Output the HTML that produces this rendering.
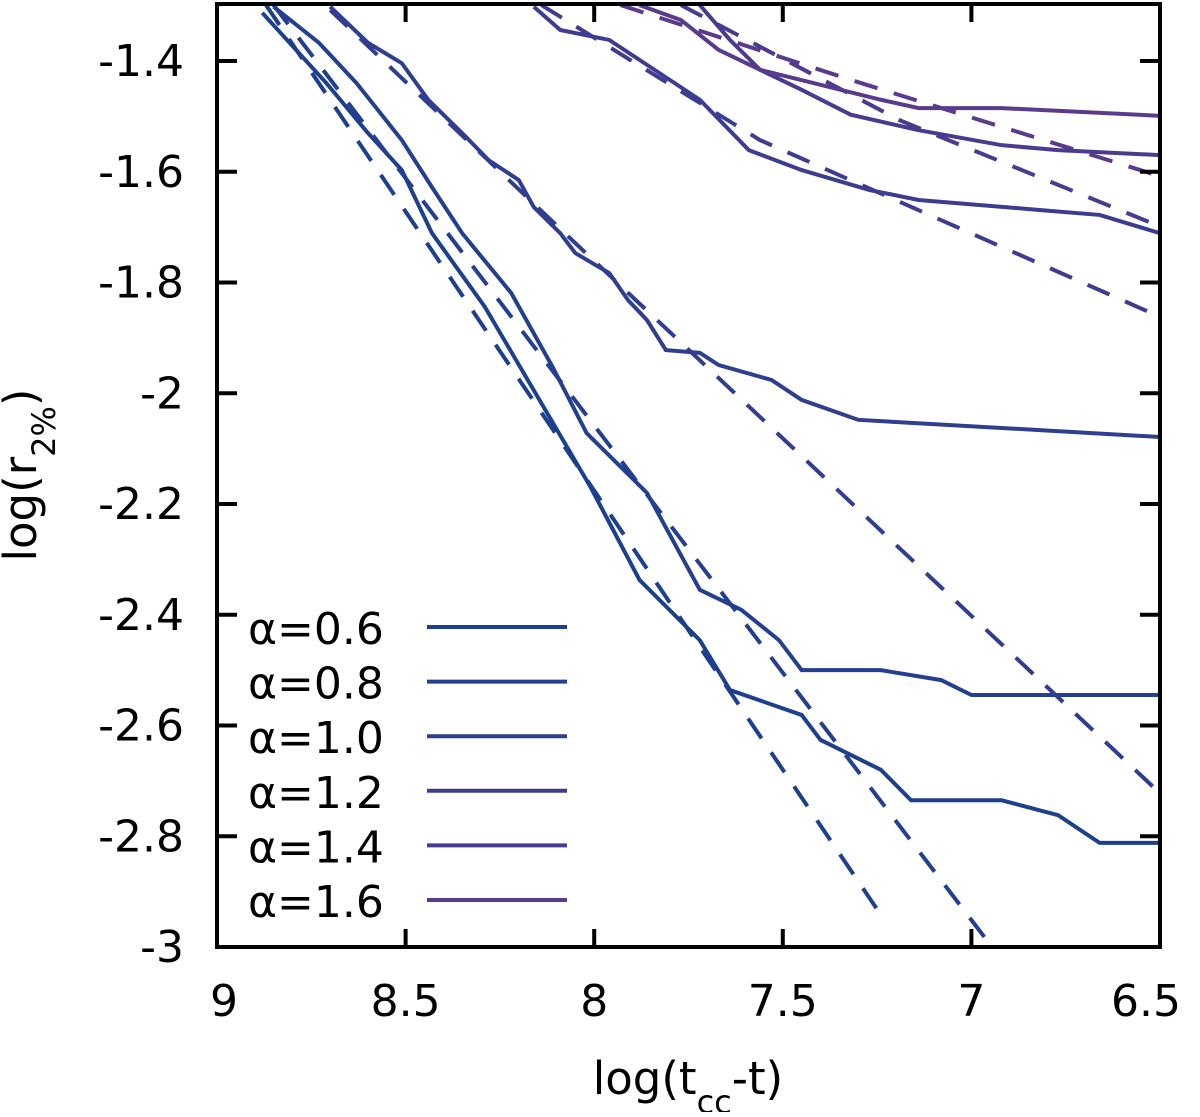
<!DOCTYPE html>
<html><head><meta charset="utf-8"><style>
html,body{margin:0;padding:0;background:#fff;}
svg text{font-family:"DejaVu Sans","Liberation Sans",sans-serif;fill:#000;}
</style></head><body>
<svg id="chart" width="1200" height="1112" viewBox="0 0 1200 1112" xmlns="http://www.w3.org/2000/svg">
<defs><clipPath id="pc"><rect x="217" y="4" width="943" height="943"/></clipPath></defs>
<g id="marks" clip-path="url(#pc)"></g>
<rect x="217" y="4" width="943" height="943" fill="none" stroke="#000" stroke-width="4"/>
<g id="axes"></g>
<text x="688" y="1094" font-size="45" text-anchor="middle">log(t<tspan baseline-shift="sub" font-size="32">cc</tspan>-t)</text>
<text transform="translate(36,475) rotate(-90)" font-size="45" text-anchor="middle">log(r<tspan baseline-shift="sub" font-size="32">2%</tspan>)</text>
<g id="legend"></g>
</svg>
<script>
const labels = ["α=0.6","α=0.8","α=1.0","α=1.2","α=1.4","α=1.6"];
const colors = ["#1c3f8e","#243f90","#2f3e91","#3c3d90","#4a3b8f","#5b3a8d"];
const xTicks = [9,8.5,8,7.5,7,6.5];
const xTickLabels = ["9","8.5","8","7.5","7","6.5"];
const yTicks = [-1.4,-1.6,-1.8,-2,-2.2,-2.4,-2.6,-2.8,-3];
const yTickLabels = ["-1.4","-1.6","-1.8","-2","-2.2","-2.4","-2.6","-2.8","-3"];
const simX = [
 [8.88,8.71,8.60,8.51,8.43,8.29,8.14,8.01,7.88,7.72,7.64,7.45,7.40,7.24,7.16,6.92,6.77,6.66,6.50],
 [8.85,8.73,8.63,8.51,8.43,8.35,8.22,8.11,8.02,7.86,7.72,7.61,7.51,7.45,7.24,7.08,7.00,6.50],
 [8.70,8.60,8.51,8.44,8.34,8.28,8.20,8.16,8.09,8.05,7.96,7.91,7.86,7.81,7.72,7.67,7.53,7.45,7.30,6.50],
 [8.16,8.09,7.96,7.88,7.72,7.59,7.45,7.27,7.14,6.82,6.66,6.50],
 [7.72,7.64,7.56,7.45,7.32,7.14,6.92,6.77,6.50],
 [7.88,7.77,7.67,7.56,7.40,7.24,7.14,6.92,6.50]
];
const simY = [
 [-1.313,-1.440,-1.530,-1.597,-1.711,-1.844,-2.018,-2.169,-2.337,-2.446,-2.536,-2.581,-2.626,-2.680,-2.735,-2.735,-2.762,-2.812,-2.812],
 [-1.302,-1.367,-1.440,-1.543,-1.628,-1.711,-1.819,-1.953,-2.072,-2.180,-2.355,-2.391,-2.446,-2.500,-2.500,-2.518,-2.545,-2.545],
 [-1.302,-1.367,-1.404,-1.470,-1.537,-1.579,-1.615,-1.664,-1.711,-1.747,-1.783,-1.832,-1.868,-1.922,-1.927,-1.949,-1.976,-2.012,-2.048,-2.079],
 [-1.302,-1.344,-1.362,-1.398,-1.470,-1.561,-1.597,-1.633,-1.651,-1.669,-1.678,-1.711],
 [-1.299,-1.362,-1.416,-1.452,-1.497,-1.525,-1.552,-1.561,-1.570],
 [-1.299,-1.326,-1.380,-1.416,-1.443,-1.470,-1.485,-1.485,-1.499]
];
const fitX = [
 [8.87,7.24],[8.85,6.96],[8.70,8.05,6.51],[8.14,7.56,6.51],[7.77,7.19,6.51],[7.93,7.32,6.51]
];
const fitY = [
 [-1.299,-2.942],[-1.299,-2.987],[-1.308,-1.729,-2.716],[-1.299,-1.543,-1.859],[-1.299,-1.507,-1.696],[-1.299,-1.434,-1.606]
];
const NS="http://www.w3.org/2000/svg";
function sx(v){return 217+(9-v)*377.2;}
function sy(v){return 61+(-1.4-v)*553.75;}
const marks=document.getElementById('marks');
for(let i=0;i<labels.length;i++){
  const p=document.createElementNS(NS,'polyline');
  p.setAttribute('points',simX[i].map((x,j)=>sx(x)+','+sy(simY[i][j])).join(' '));
  p.setAttribute('fill','none');p.setAttribute('stroke',colors[i]);p.setAttribute('stroke-width','4');
  
  
  marks.appendChild(p);
  const d=document.createElementNS(NS,'polyline');
  d.setAttribute('points',fitX[i].map((x,j)=>sx(x)+','+sy(fitY[i][j])).join(' '));
  d.setAttribute('fill','none');d.setAttribute('stroke',colors[i]);d.setAttribute('stroke-width','4');
  d.setAttribute('stroke-dasharray','24,17');
  
  
  marks.appendChild(d);
}
const axes=document.getElementById('axes');
xTicks.forEach((v,i)=>{
  const x=sx(v);
  for(const [a,b] of [[947,929],[4,22]]){
    const l=document.createElementNS(NS,'line');
    l.setAttribute('x1',x);l.setAttribute('x2',x);l.setAttribute('y1',a);l.setAttribute('y2',b);
    l.setAttribute('stroke','#000');l.setAttribute('stroke-width','4');
    
    
    axes.appendChild(l);
  }
  const t=document.createElementNS(NS,'text');
  t.setAttribute('x',i==0?x+7:(i==xTicks.length-1?x-14:x));t.setAttribute('y',1016);
  t.setAttribute('font-size','44');t.setAttribute('text-anchor','middle');
  t.textContent=xTickLabels[i];
  
  
  axes.appendChild(t);
});
yTicks.forEach((v,i)=>{
  const y=sy(v);
  for(const [a,b] of [[217,237],[1160,1140]]){
    const l=document.createElementNS(NS,'line');
    l.setAttribute('x1',a);l.setAttribute('x2',b);l.setAttribute('y1',y);l.setAttribute('y2',y);
    l.setAttribute('stroke','#000');l.setAttribute('stroke-width','4');
    
    
    axes.appendChild(l);
  }
  const t=document.createElementNS(NS,'text');
  t.setAttribute('x',184);t.setAttribute('y',y+15);
  t.setAttribute('font-size','44');t.setAttribute('text-anchor','end');
  t.textContent=yTickLabels[i];
  
  
  axes.appendChild(t);
});
const legend=document.getElementById('legend');
labels.forEach((lab,i)=>{
  const y=627+i*54.6;
  const t=document.createElementNS(NS,'text');
  t.setAttribute('x',248);t.setAttribute('y',y+17);t.setAttribute('font-size','44');
  t.textContent=lab;
  
  
  legend.appendChild(t);
  const l=document.createElementNS(NS,'line');
  l.setAttribute('x1',427);l.setAttribute('x2',567);l.setAttribute('y1',y);l.setAttribute('y2',y);
  l.setAttribute('stroke',colors[i]);l.setAttribute('stroke-width','4');
  
  
  legend.appendChild(l);
});
</script>
</body></html>
